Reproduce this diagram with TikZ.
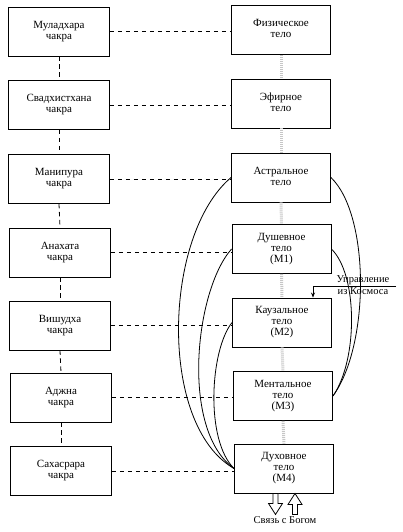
\documentclass[tikz,border=0pt]{standalone}
\usepackage{fontspec}
\setmainfont{Liberation Serif}
\usetikzlibrary{arrows.meta}
\newcommand\celltxt[1]{\begin{tabular}{@{}c@{}}#1\end{tabular}}
\begin{document}
\begin{tikzpicture}[x=1pt,y=-1pt,
  box/.style={draw,line width=0.9pt,minimum width=101pt,minimum height=49pt,inner sep=0pt,font=\fontsize{11}{11}\selectfont},
  dashline/.style={line width=0.8pt,dash pattern=on 4.5pt off 3.5pt},
  grayline/.style={gray!45,line width=3pt,dash pattern=on 1pt off 1pt},
  curve/.style={line width=0.8pt},
  lbl/.style={font=\fontsize{10.5}{10.5}\selectfont,inner sep=0pt}]
\useasboundingbox (0,0) rectangle (402,532);
% left column
\node[box] (l1) at (59,31.5) {\celltxt{Муладхара\\чакра}};
\node[box] (l2) at (59,105) {\celltxt{Свадхистхана\\чакра}};
\node[box] (l3) at (59,179) {\celltxt{Манипура\\чакра}};
\node[box] (l4) at (60,252.5) {\celltxt{Анахата\\чакра}};
\node[box] (l5) at (60,325.5) {\celltxt{Вишудха\\чакра}};
\node[box] (l6) at (61,397.5) {\celltxt{Аджна\\чакра}};
\node[box] (l7) at (61,471) {\celltxt{Сахасрара\\чакра}};
% right column
\node[box,minimum width=99pt] (r1) at (281,30) {\celltxt{Физическое\\тело}};
\node[box,minimum width=99pt] (r2) at (281,103.5) {\celltxt{Эфирное\\тело}};
\node[box,minimum width=99pt] (r3) at (281,177.5) {\celltxt{Астральное\\тело}};
\node[box,minimum width=99pt] (r4) at (281.5,249) {\celltxt{Душевное\\тело\\(М1)}};
\node[box,minimum width=99pt] (r5) at (282,322.5) {\celltxt{Каузальное\\тело\\(М2)}};
\node[box,minimum width=99pt] (r6) at (283,396) {\celltxt{Ментальное\\тело\\(М3)}};
\node[box,minimum width=99pt] (r7) at (284,468.5) {\celltxt{Духовное\\тело\\(М4)}};
% vertical connectors
\foreach \a/\b in {l1/l2,l2/l3,l3/l4,l4/l5,l5/l6,l6/l7}{
  \draw[dashline] (\a.south) -- (\b.north);}
\foreach \a/\b in {r1/r2,r2/r3,r3/r4,r4/r5,r5/r6,r6/r7}{
  \draw[grayline] (\a.south) -- (\b.north);}
% horizontal connectors
\foreach \i in {1,...,7}{
  \draw[dashline] (l\i.east) -- (l\i.east -| r\i.west);}
% left curves
\draw[curve] (r3.west) .. controls (163,235) and (158,425) .. (r7.west);
\draw[curve] (r4.west) .. controls (195,290) and (180,430) .. (r7.west);
\draw[curve] (r5.west) .. controls (210,350) and (205,440) .. (r7.west);
% right curves
\draw[curve] (r3.east) .. controls (370,215) and (370,345) .. (r6.east);
\draw[curve] (r4.east) .. controls (358,275) and (358,360) .. (r6.east);
% control from cosmos
\coordinate (cL) at (313,286);
\coordinate (cR) at (396,286);
\node[lbl,anchor=south] (up) at (363,285) {Управление};
\node[lbl,anchor=north] (kos) at (363,287.5) {из Космоса};
\draw[line width=0.7pt] (cR) -- (cL);
\draw[line width=0.7pt,-{Stealth[length=5pt,width=4pt]}] (cL) -- (cL |- r5.north);
% bottom arrows
\draw[line width=0.8pt,fill=white] ([xshift=-8.5pt]r7.south) ++(-2.5,0) -- ++(0,10) -- ++(-4.5,0) -- ++(7,11) -- ++(7,-11) -- ++(-4.5,0) -- ++(0,-10) -- cycle;
\draw[line width=0.8pt,fill=white] ([xshift=11pt]r7.south) -- ++(-7,11) -- ++(4.5,0) -- ++(0,10) -- ++(5,0) -- ++(0,-10) -- ++(4.5,0) -- cycle;
\node[lbl] (svyaz) at (285,520) {Связь с Богом};
\end{tikzpicture}
\end{document}
